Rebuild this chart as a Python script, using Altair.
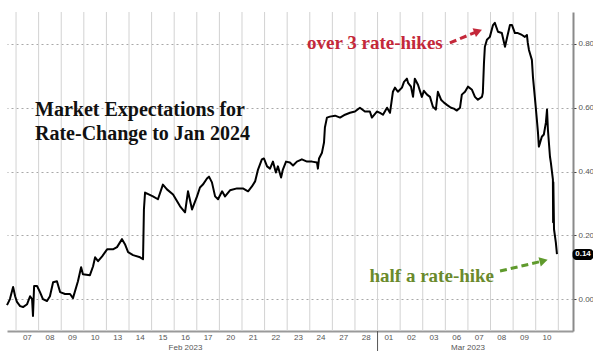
import altair as alt
import pandas as pd

# Trading days shown on the x axis (Feb 07 .. Mar 10, 2023)
days = ["07", "08", "09", "10", "13", "14", "15", "16", "17", "20", "21", "22",
        "23", "24", "27", "28", "01", "02", "03", "06", "07", "08", "09", "10"]
months = ["Feb 2023", "Mar 2023"]
month_pos = [7.5, 20.0]          # trading-day position of month label
month_break = [16]               # boundary between Feb and Mar

# series: position in trading days (0 = start of Feb 07) and expected rate change (%)
t_vals = [-0.40, -0.27, -0.13, -0.04, 0.04, 0.18, 0.31, 0.49, 0.62, 0.71, 0.75, 0.80,
          0.93, 1.06, 1.19, 1.37, 1.50, 1.64, 1.81, 1.95, 2.17, 2.39, 2.52, 2.74,
          2.88, 2.96, 3.27, 3.41, 3.50, 3.63, 3.81, 4.03, 4.29, 4.47, 4.69, 4.82,
          4.96, 5.18, 5.49, 5.62, 5.66, 5.71, 6.06, 6.28, 6.50, 6.68, 6.95, 7.26,
          7.48, 7.61, 7.79, 8.01, 8.14, 8.27, 8.45, 8.54, 8.67, 8.81, 8.94, 9.12,
          9.25, 9.47, 9.78, 10.04, 10.27, 10.44, 10.58, 10.71, 10.88, 10.97, 11.11, 11.24,
          11.37, 11.50, 11.59, 11.73, 11.81, 11.95, 12.12, 12.26, 12.43, 12.65, 12.88, 13.10,
          13.32, 13.36, 13.41, 13.54, 13.63, 13.67, 13.76, 13.89, 14.12, 14.34, 14.56, 14.78,
          15.00, 15.22, 15.44, 15.66, 15.75, 15.97, 16.11, 16.24, 16.42, 16.55, 16.68, 16.77,
          16.90, 17.08, 17.17, 17.30, 17.35, 17.48, 17.57, 17.65, 17.79, 17.96, 18.05, 18.19,
          18.32, 18.45, 18.58, 18.67, 18.81, 18.94, 19.07, 19.25, 19.38, 19.51, 19.65, 19.73,
          19.87, 20.00, 20.18, 20.31, 20.44, 20.62, 20.66, 20.71, 20.75, 20.84, 20.97, 21.11,
          21.19, 21.33, 21.50, 21.64, 21.73, 21.86, 21.95, 22.08, 22.21, 22.39, 22.52, 22.61,
          22.65, 22.70, 22.83, 22.88, 22.96, 23.05, 23.10, 23.14, 23.27, 23.36, 23.45, 23.50,
          23.54, 23.63, 23.67, 23.76, 23.77, 23.78, 23.81, 23.89, 23.94]
v_vals = [-0.019, 0.000, 0.038, 0.009, -0.009, -0.022, -0.025, -0.016, 0.009, 0.000, -0.053, 0.041,
          0.041, 0.022, 0.000, -0.006, 0.009, 0.053, 0.056, 0.022, 0.016, 0.016, 0.003, 0.056,
          0.100, 0.078, 0.075, 0.103, 0.131, 0.119, 0.134, 0.156, 0.156, 0.163, 0.188, 0.172,
          0.147, 0.138, 0.131, 0.125, 0.281, 0.334, 0.322, 0.313, 0.359, 0.344, 0.328, 0.291,
          0.272, 0.338, 0.281, 0.322, 0.350, 0.359, 0.378, 0.384, 0.366, 0.322, 0.313, 0.338,
          0.322, 0.341, 0.347, 0.347, 0.338, 0.353, 0.369, 0.406, 0.438, 0.441, 0.416, 0.409,
          0.431, 0.397, 0.416, 0.381, 0.406, 0.431, 0.428, 0.419, 0.431, 0.438, 0.431, 0.431,
          0.428, 0.409, 0.441, 0.459, 0.491, 0.538, 0.569, 0.572, 0.575, 0.569, 0.578, 0.584,
          0.588, 0.600, 0.588, 0.588, 0.569, 0.588, 0.584, 0.578, 0.600, 0.584, 0.650, 0.663,
          0.650, 0.663, 0.681, 0.691, 0.678, 0.666, 0.634, 0.691, 0.672, 0.634, 0.653, 0.641,
          0.634, 0.603, 0.594, 0.650, 0.625, 0.616, 0.609, 0.600, 0.597, 0.591, 0.600, 0.641,
          0.650, 0.666, 0.656, 0.634, 0.625, 0.634, 0.647, 0.741, 0.791, 0.813, 0.822, 0.859,
          0.866, 0.838, 0.834, 0.791, 0.819, 0.859, 0.859, 0.834, 0.834, 0.828, 0.822, 0.828,
          0.803, 0.781, 0.750, 0.694, 0.634, 0.563, 0.522, 0.478, 0.509, 0.516, 0.553, 0.594,
          0.531, 0.447, 0.428, 0.375, 0.241, 0.366, 0.219, 0.178, 0.141]

last_value = [0.14]
y_ticks = [0.0, 0.1, 0.2, 0.3, 0.4, 0.5, 0.6, 0.7, 0.8]

title_lines = "Market Expectations for\nRate-Change to Jan 2024"
red_text = ["over 3 rate-hikes"]
red_text_pos = [15.88, 0.803]
red_arrow_t = [19.20, 20.45]
red_arrow_v = [0.803, 0.840]
green_text = ["half a rate-hike"]
green_text_pos = [18.40, 0.072]
green_arrow_t = [21.42, 23.35]
green_arrow_v = [0.088, 0.120]

RED = "#c4283a"
GREEN = "#5f9a2c"
GREEN_TXT = "#6a8a2c"
SERIF = "Liberation Serif"
SANS = "Liberation Sans"

xscale = alt.Scale(domain=[-0.4, 24.65], nice=False, zero=False)
yscale = alt.Scale(domain=[-0.1, 0.9], nice=False, zero=False)

df = pd.DataFrame({"t": t_vals, "v": v_vals})
day_df = pd.DataFrame({"t": [i + 0.5 for i in range(len(days))], "s": days})
grid_df = pd.DataFrame({"t": list(range(len(days) + 1))})

major_test = "round(datum.value*10) % 2 == 0"

x_axis = alt.Axis(labels=False, ticks=False, grid=False,
                  domainColor="#9a9a9a", domainWidth=2, title=None)
y_axis = alt.Axis(orient="right", values=y_ticks,
                  labelExpr="(" + major_test + ") ? format(datum.value, '.2f') : ''",
                  grid=True, gridDash=[2, 3], gridColor="#a8a8a8",
                  gridOpacity={"condition": {"test": major_test, "value": 1}, "value": 0},
                  domainColor="#8a8a8a", domainWidth=2,
                  tickColor="#444444", tickSize=3, tickWidth=1,
                  labelColor="#555555", labelFont=SANS, labelFontSize=8, labelPadding=2,
                  title=None)

vgrid = alt.Chart(grid_df).mark_rule(color="#d2d2d2", strokeWidth=1).encode(
    x=alt.X("t:Q", scale=xscale, axis=x_axis))

line = alt.Chart(df).mark_line(color="black", strokeWidth=2, strokeJoin="round").encode(
    x=alt.X("t:Q", scale=xscale, axis=x_axis),
    y=alt.Y("v:Q", scale=yscale, axis=y_axis),
)

day_lab = alt.Chart(day_df).mark_text(
    color="#555555", font=SANS, fontSize=8, baseline="middle"
).encode(x="t:Q", y=alt.value(326), text="s:N")

title = alt.Chart(pd.DataFrame({"a": [0]})).mark_text(
    align="left", baseline="middle", font=SERIF, fontWeight="bold", fontSize=20,
    lineHeight=24, lineBreak="\n", color="#111111"
).encode(x=alt.value(28), y=alt.value(98), text=alt.value(title_lines))

red_lab = alt.Chart(pd.DataFrame({"t": [red_text_pos[0]], "v": [red_text_pos[1]], "s": red_text})).mark_text(
    font=SERIF, fontWeight="bold", fontSize=19, color=RED, baseline="middle"
).encode(x="t:Q", y="v:Q", text="s:N")

green_lab = alt.Chart(pd.DataFrame({"t": [green_text_pos[0]], "v": [green_text_pos[1]], "s": green_text})).mark_text(
    font=SERIF, fontWeight="bold", fontSize=19, color=GREEN_TXT, baseline="middle"
).encode(x="t:Q", y="v:Q", text="s:N")

red_line = alt.Chart(pd.DataFrame({"t": red_arrow_t, "v": red_arrow_v})).mark_line(
    color=RED, strokeWidth=3, strokeDash=[7, 4]).encode(x="t:Q", y="v:Q")
red_head = alt.Chart(pd.DataFrame({"t": [red_arrow_t[1]], "v": [red_arrow_v[1]]})).mark_point(
    shape="triangle-right", filled=True, size=90, color=RED, opacity=1, angle=339
).encode(x="t:Q", y="v:Q")

green_line = alt.Chart(pd.DataFrame({"t": green_arrow_t, "v": green_arrow_v})).mark_line(
    color=GREEN, strokeWidth=3, strokeDash=[7, 4]).encode(x="t:Q", y="v:Q")
green_head = alt.Chart(pd.DataFrame({"t": [green_arrow_t[1]], "v": [green_arrow_v[1]]})).mark_point(
    shape="triangle-right", filled=True, size=90, color=GREEN, opacity=1, angle=346
).encode(x="t:Q", y="v:Q")

last_df = pd.DataFrame({"v": last_value, "s": [f"{x:.2f}" for x in last_value]})
last_box = alt.Chart(last_df).mark_rect(color="black", width=21, height=11, cornerRadius=4).encode(
    x=alt.value(576), y="v:Q")
last_txt = alt.Chart(last_df).mark_text(color="white", font=SANS, fontSize=8, fontWeight="bold").encode(
    x=alt.value(576), y="v:Q", text="s:N")

month_lab = alt.Chart(pd.DataFrame({"t": month_pos, "s": months})).mark_text(
    color="#555555", font=SANS, fontSize=8, baseline="middle"
).encode(x="t:Q", y=alt.value(336), text="s:N")
month_sep = alt.Chart(pd.DataFrame({"t": month_break})).mark_rule(color="#555555", strokeWidth=1).encode(
    x="t:Q", y=alt.value(319), y2=alt.value(339))

chart = alt.layer(
    vgrid, line, day_lab, title, red_line, red_head, red_lab, green_line, green_head, green_lab,
    last_box, last_txt, month_lab, month_sep
).properties(
    width=566, height=319, autosize="none",
    padding={"left": 7, "top": 12, "right": 20, "bottom": 20},
    background="white"
).configure_view(strokeWidth=0)

chart.save("out.html", embed_options={"renderer": "svg", "actions": False})
